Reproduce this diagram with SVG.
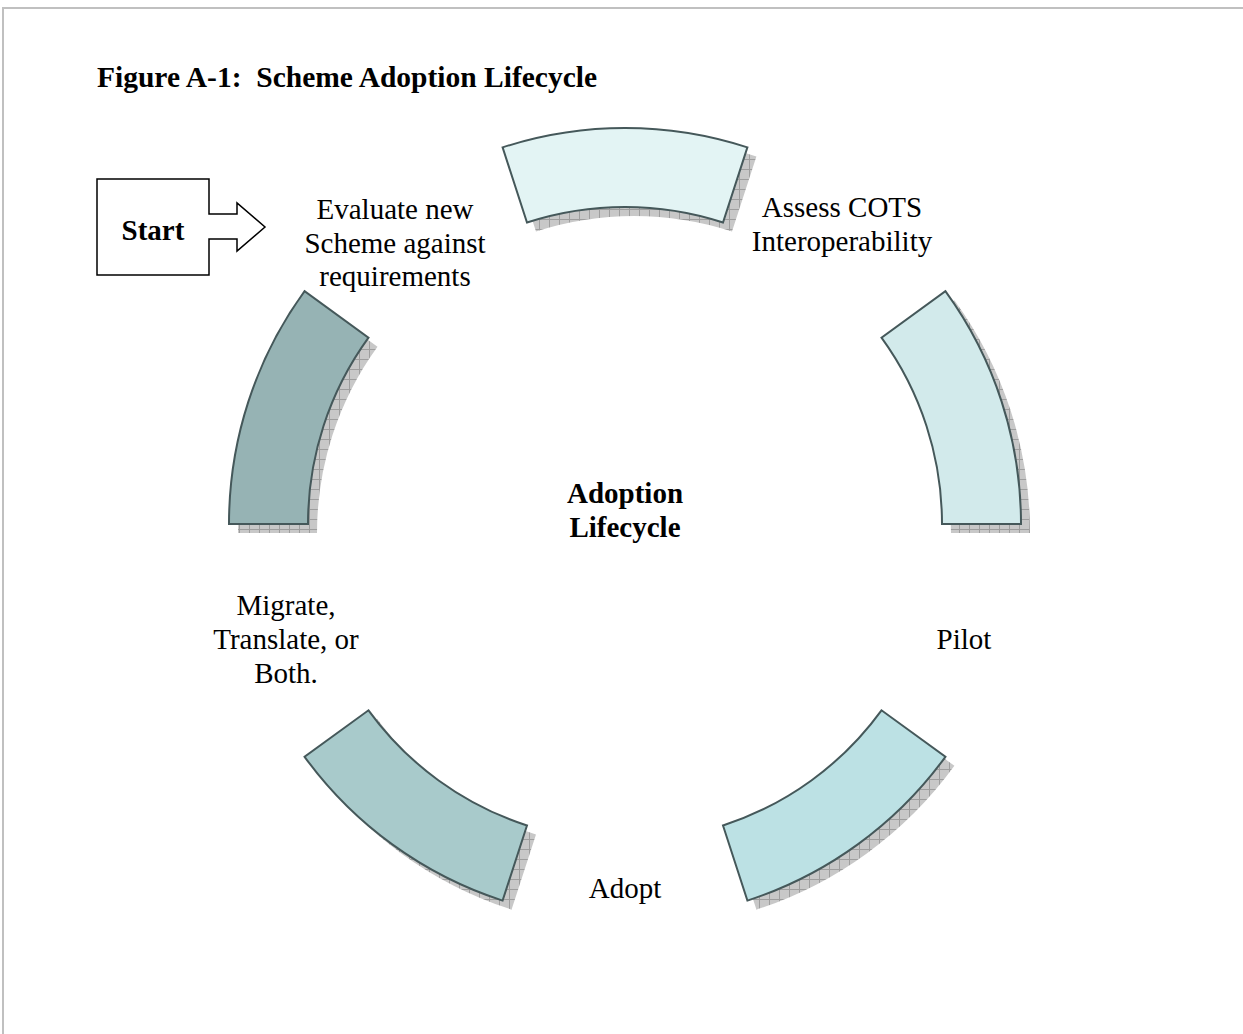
<svg xmlns="http://www.w3.org/2000/svg" xmlns:xlink="http://www.w3.org/1999/xlink" width="1243" height="1034" viewBox="0 0 1243 1034">
<style>
.t{font-family:"Liberation Serif","Times New Roman",serif;font-size:29px;fill:#000;text-anchor:middle}
.b{font-weight:bold}
.seg{stroke:#45585a;stroke-width:2;stroke-linejoin:miter}
.sh{fill:url(#hatch);stroke:none}
</style>
<defs>
<pattern id="hatch" width="10" height="10" patternUnits="userSpaceOnUse">
<rect width="10" height="10" fill="#c8c8c8"/>
<path d="M0,0.5H10M0.5,0V10" stroke="#9e9e9e" stroke-width="1"/>
</pattern>
<path id="p1" d="M502.6,147.4 A396,396 0 0 1 747.4,147.4 L723,222.5 A317,317 0 0 0 527,222.5 Z"/>
<path id="p2" d="M945.4,291.2 A396,396 0 0 1 1021,524 L942,524 A317,317 0 0 0 881.5,337.7 Z"/>
<path id="p3" d="M945.4,756.8 A396,396 0 0 1 747.4,900.6 L723,825.5 A317,317 0 0 0 881.5,710.3 Z"/>
<path id="p4" d="M502.6,900.6 A396,396 0 0 1 304.6,756.8 L368.5,710.3 A317,317 0 0 0 527,825.5 Z"/>
<path id="p5" d="M229,524 A396,396 0 0 1 304.6,291.2 L368.5,337.7 A317,317 0 0 0 308,524 Z"/>
</defs>
<rect width="1243" height="1034" fill="#fff"/>
<path d="M3,1034 V8 H1243" fill="none" stroke="#c0c0c0" stroke-width="2"/>
<text class="t b" x="97" y="87" style="text-anchor:start;font-size:29.5px;white-space:pre">Figure A-1:  Scheme Adoption Lifecycle</text>

<g id="start">
<path d="M97,179 H209 V214 H237 V203 L265,227 L237,251 V239 H209 V275 H97 Z" fill="#fff" stroke="#000" stroke-width="1.5"/>
<text class="t b" x="153" y="240">Start</text>
</g>

<g id="seg-evaluate">
<use xlink:href="#p1" class="sh" transform="translate(9,9)"/>
<use xlink:href="#p1" class="seg" fill="#e3f4f4"/>
</g>
<g id="seg-assess">
<use xlink:href="#p2" class="sh" transform="translate(9,9)"/>
<use xlink:href="#p2" class="seg" fill="#d2eaeb"/>
</g>
<g id="seg-pilot">
<use xlink:href="#p3" class="sh" transform="translate(9,9)"/>
<use xlink:href="#p3" class="seg" fill="#bce1e4"/>
</g>
<g id="seg-adopt">
<use xlink:href="#p4" class="sh" transform="translate(9,9)"/>
<use xlink:href="#p4" class="seg" fill="#a8cacb"/>
</g>
<g id="seg-migrate">
<use xlink:href="#p5" class="sh" transform="translate(9,9)"/>
<use xlink:href="#p5" class="seg" fill="#96b3b4"/>
</g>

<g id="label-evaluate">
<text class="t" x="395" y="219">Evaluate new</text>
<text class="t" x="395" y="253">Scheme against</text>
<text class="t" x="395" y="286">requirements</text>
</g>
<g id="label-assess">
<text class="t" x="842" y="217">Assess COTS</text>
<text class="t" x="842" y="251">Interoperability</text>
</g>
<g id="label-center">
<text class="t b" x="625" y="503">Adoption</text>
<text class="t b" x="625" y="537">Lifecycle</text>
</g>
<g id="label-pilot">
<text class="t" x="964" y="649">Pilot</text>
</g>
<g id="label-adopt">
<text class="t" x="625" y="898">Adopt</text>
</g>
<g id="label-migrate">
<text class="t" x="286" y="615">Migrate,</text>
<text class="t" x="286" y="649">Translate, or</text>
<text class="t" x="286" y="683">Both.</text>
</g>
</svg>
